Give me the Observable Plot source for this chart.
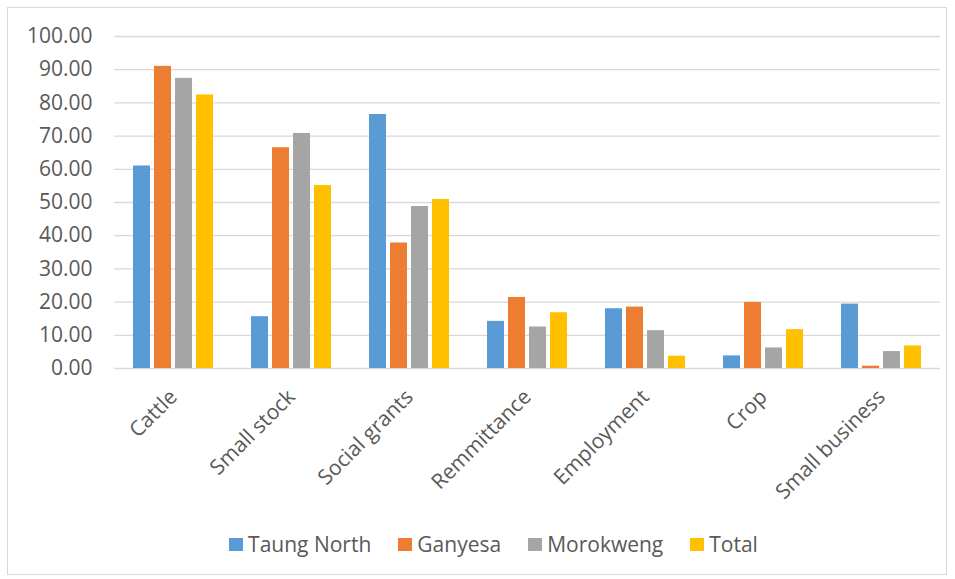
<!DOCTYPE html>
<html>
<head>
<meta charset="utf-8">
<script src="https://cdn.jsdelivr.net/npm/d3@7"></script>
<script src="https://cdn.jsdelivr.net/npm/@observablehq/plot@0.6"></script>
<style>
  html, body { margin: 0; padding: 0; background: #fff; }
  body { width: 955px; height: 579px; position: relative; overflow: hidden; font-family: "Open Sans", sans-serif; }
  #frame { position: absolute; left: 7px; top: 7px; width: 940px; height: 568px; border: 1px solid #d9d9d9; box-sizing: border-box; }
  #chart { position: absolute; left: 0; top: 0; }
  #legend { position: absolute; left: 16px; width: 955px; top: 530px; display: flex; justify-content: center; gap: 27px; font-size: 21px; line-height: 28px; color: #595959; }
  #legend .item { display: flex; align-items: center; gap: 5px; }
  #legend .sw { width: 14px; height: 13px; display: inline-block; }
</style>
</head>
<body>
<div id="frame"></div>
<div id="chart"></div>
<div id="legend"></div>
<script>
// Income sources by area (percent of households)
const categories = ["Cattle", "Small stock", "Social grants", "Remmittance", "Employment", "Crop", "Small business"];
const seriesNames = ["Taung North", "Ganyesa", "Morokweng", "Total"];
const seriesColors = ["#5B9BD5", "#ED7D31", "#A5A5A5", "#FFC000"];

const taungNorth = [61.0, 15.6, 76.5, 14.2, 18.0, 3.8, 19.4];
const ganyesa    = [91.0, 66.5, 37.8, 21.4, 18.5, 19.9, 0.7];
const morokweng  = [87.4, 70.8, 48.8, 12.5, 11.4, 6.2, 5.1];
const total      = [82.4, 55.1, 50.9, 16.8, 3.7, 11.7, 6.8];

const yTicks = [0, 10, 20, 30, 40, 50, 60, 70, 80, 90, 100];

const seriesValues = [taungNorth, ganyesa, morokweng, total];
const rows = [];
categories.forEach((cat, i) => {
  seriesNames.forEach((s, j) => rows.push({category: cat, series: s, value: seriesValues[j][i]}));
});

const textColor = "#595959";
const gridColor = "#d9d9d9";

const chart = Plot.plot({
  width: 955,
  height: 520,
  marginLeft: 113,
  marginRight: 15,
  marginTop: 36,
  marginBottom: 152,
  style: {fontFamily: "'Open Sans', sans-serif", fontSize: "21px", color: textColor, background: "transparent"},
  fx: {domain: categories, padding: 0, label: null},
  x: {domain: seriesNames, paddingInner: 0.2, paddingOuter: 0.87, axis: null},
  y: {domain: [0, 100], label: null},
  color: {domain: seriesNames, range: seriesColors},
  marks: [
    Plot.ruleY(yTicks, {stroke: gridColor, strokeWidth: 1.3}),
    Plot.barY(rows, {fx: "category", x: "series", y: "value", fill: "series"}),
    Plot.axisY(yTicks, {tickFormat: d => d.toFixed(2), tickSize: 0, tickPadding: 22, fill: textColor, fontSize: 21, label: null}),
    Plot.axisFx({anchor: "bottom", tickRotate: -45, tickSize: 0, tickPadding: 25, fill: textColor, fontSize: 21, label: null})
  ]
});
document.getElementById("chart").appendChild(chart);

// Legend below the plot
const legend = document.getElementById("legend");
seriesNames.forEach((s, j) => {
  const item = document.createElement("div");
  item.className = "item";
  const sw = document.createElement("span");
  sw.className = "sw";
  sw.style.background = seriesColors[j];
  const label = document.createElement("span");
  label.textContent = s;
  item.appendChild(sw);
  item.appendChild(label);
  legend.appendChild(item);
});
</script>
</body>
</html>
